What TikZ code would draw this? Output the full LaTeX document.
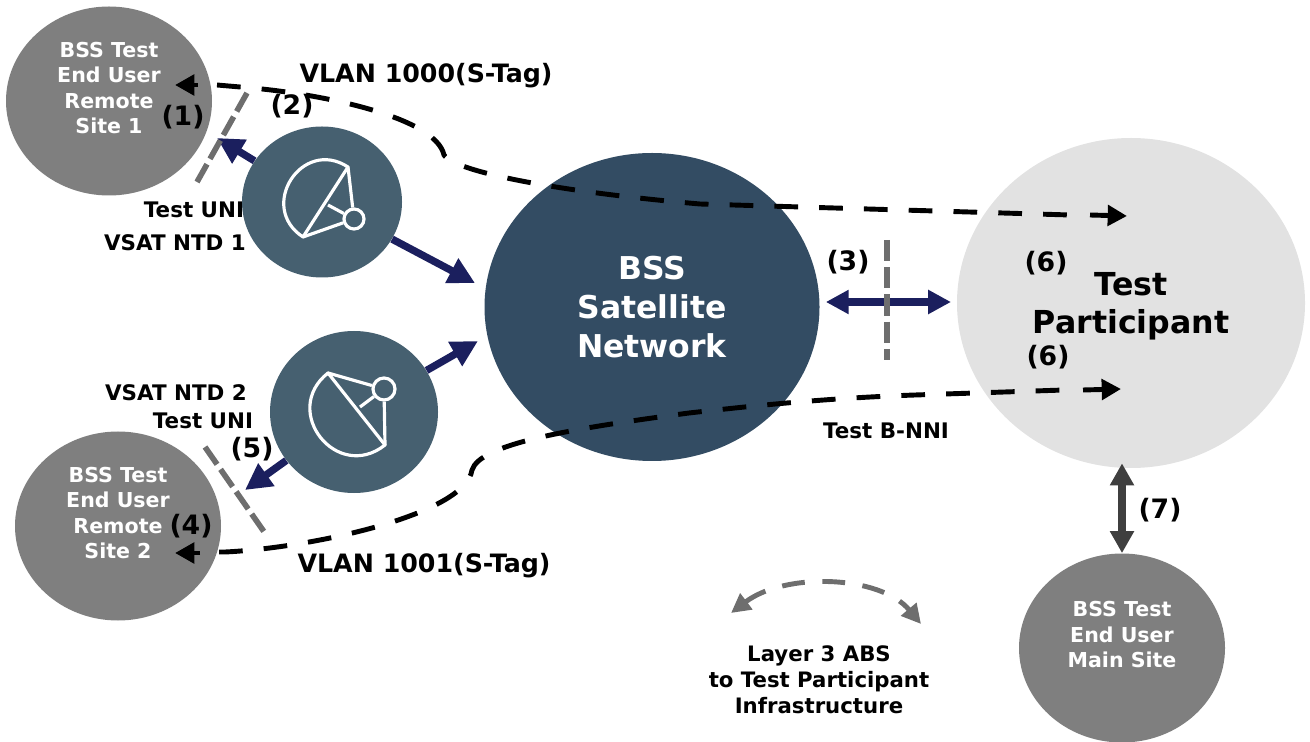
\documentclass[tikz,border=0pt]{standalone}
\usepackage{xcolor}
\usepackage{fontspec}
\setmainfont{DejaVu Sans}
\usetikzlibrary{arrows.meta,shapes.geometric,positioning,calc}

\definecolor{sitegray}{HTML}{7F7F7F}
\definecolor{vsatteal}{HTML}{466070}
\definecolor{bssblue}{HTML}{334C63}
\definecolor{partgray}{HTML}{E2E2E2}
\definecolor{linknavy}{HTML}{1B1F5E}
\definecolor{darklink}{HTML}{3F3F3F}
\definecolor{demarcgray}{HTML}{6E6E6E}

\tikzset{
    blob/.style={ellipse, draw=none, inner sep=0pt, align=center},
    site/.style={blob, fill=sitegray, text=white, font=\bfseries\fontsize{11.7}{14.5}\selectfont, minimum width=206*0.02cm, minimum height=189*0.02cm, text depth=15pt},
    vsat/.style={blob, fill=vsatteal},
    tag/.style={font=\bfseries\fontsize{12.2}{14}\selectfont, text=black, inner sep=0pt},
    vlan/.style={font=\bfseries\fontsize{14.4}{16}\selectfont, text=black, inner sep=0pt},
    num/.style={font=\bfseries\fontsize{15.2}{16}\selectfont, text=black, inner sep=0pt},
    vlanpath/.style={line width=2.8pt, dash pattern=on 13.5pt off 12pt, black},
    vlantip/.style={line width=2.8pt, black, -{Triangle[length=11pt,width=11.5pt]}},
    link/.style={line width=4.2pt, linknavy, -{Triangle[length=15pt,width=15pt]}},
    demarc/.style={line width=3.2pt, demarcgray, dash pattern=on 12pt off 3.5pt},
    dish/.style={line width=1.8pt, white, line join=round}
}

\begin{document}
\begin{tikzpicture}[x=0.02cm, y=-0.02cm]
    \useasboundingbox (0,0) rectangle (1310,742);

    % Labels under the circles
    \node[tag] (uni1) at (194,210) {Test UNI};
    \node[tag] (ntd1lab) at (175,243) {VSAT NTD 1};
    \node[tag] (ntd2lab) at (176,393) {VSAT NTD 2};
    \node[tag] (uni2) at (203,421) {Test UNI};

    % Main circles
    \node[site] (remote1) at (109,101) {BSS Test\\End User\\Remote\\Site 1};
    \node[site] (remote2) at (118,526) {BSS Test\\End User\\Remote\\Site 2};
    \node[site] (mainsite) at (1122,648) {BSS Test\\End User\\Main Site};
    \node[vsat, minimum width=160*0.02cm, minimum height=151*0.02cm] (ntd1) at (322,202) {};
    \node[vsat, minimum width=168*0.02cm, minimum height=162*0.02cm] (ntd2) at (354,412) {};
    \node[blob, fill=bssblue, text=white, font=\bfseries\fontsize{17.9}{22.4}\selectfont, minimum width=335*0.02cm, minimum height=308*0.02cm] (bss) at (652,307) {BSS\\Satellite\\Network};
    \node[blob, fill=partgray, text=black, font=\bfseries\fontsize{18}{21.5}\selectfont, minimum width=348*0.02cm, minimum height=330*0.02cm, text depth=0pt] (part) at (1131,303) {Test\\Participant};

    % Dish icons
    \coordinate (dish1a) at (348,167);
    \coordinate (dish1b) at (303,237);
    \draw[dish] (dish1a) .. controls (302,137) and (257,207) .. (dish1b) -- cycle;
    \node[draw=white, line width=1.8pt, circle, minimum size=20*0.02cm, inner sep=0pt] (feed1) at (354,219) {};
    \draw[dish] (dish1a) -- (feed1);
    \draw[dish] (dish1b) -- (feed1);
    \draw[dish] (328,205) -- (feed1);

    \coordinate (dish2a) at (328,373);
    \coordinate (dish2b) at (385,445);
    \draw[dish] (dish2a) .. controls (280,411) and (337,483) .. (dish2b) -- cycle;
    \node[draw=white, line width=1.8pt, circle, minimum size=22*0.02cm, inner sep=0pt] (feed2) at (384,389) {};
    \draw[dish] (dish2a) -- (feed2);
    \draw[dish] (dish2b) -- (feed2);
    \draw[dish] (360,407) -- (feed2);

    % Access links
    \coordinate (tip1) at (217,138);
    \coordinate (tip2) at (475,283);
    \coordinate (tip3) at (478,341);
    \coordinate (tip4) at (245,490);
    \coordinate (bnni) at (951,302);
    \draw[link] (ntd1) -- (tip1);
    \draw[link] (ntd1) -- (tip2);
    \draw[link] (ntd2) -- (tip3);
    \draw[link] (ntd2) -- (tip4);
    \draw[link, shorten <=3.4pt, {Triangle[length=13pt,width=13pt]}-{Triangle[length=13pt,width=13pt]}] (bss.east |- bnni) -- (bnni);
    \draw[line width=5pt, darklink, {Triangle[length=12.5pt,width=13pt]}-{Triangle[length=12.5pt,width=13pt]}] ($(mainsite |- part.south)+(0,-5)$) -- (mainsite.north);

    % Demarcation lines
    \coordinate (uni1top) at (247,93);
    \coordinate (uni1end) at (197,182);
    \coordinate (uni2top) at (205,447);
    \coordinate (uni2end) at (267,536);
    \coordinate (nnitop) at (887,240);
    \coordinate (nniend) at (887,360);
    \draw[demarc] (uni1top) -- (uni1end);
    \draw[demarc] (uni2top) -- (uni2end);
    \draw[demarc] (nnitop) -- (nniend);

    % VLAN paths
    \coordinate (vlan1a) at (175,85);
    \coordinate (vlan1s) at (198,85);
    \coordinate (vlan1b) at (1127,216);
    \coordinate (vlan1e) at (1090,215);
    \coordinate (vlan2a) at (175,553);
    \coordinate (vlan2s) at (200,553);
    \coordinate (vlan2b) at (1121,389);
    \coordinate (vlan2e) at (1083,390);
    \draw[vlanpath] (217,85) -- (240,87) .. controls (310,92) and (435,115) .. (444,155)
        .. controls (455,172) and (560,192) .. (700,204) -- (1070,215);
    \draw[vlanpath] (219,552) -- (225,552) .. controls (310,548) and (465,515) .. (472,470)
        .. controls (480,445) and (560,430) .. (689,413)
        .. controls (760,405) and (830,398) .. (915,395) -- (1064,390);
    \draw[vlantip] (vlan1s) -- (vlan1a);
    \draw[vlantip] (vlan1e) -- (vlan1b);
    \draw[vlantip] (vlan2s) -- (vlan2a);
    \draw[vlantip] (vlan2e) -- (vlan2b);

    % Test interval arrow
    \coordinate (absleft) at (731,613);
    \coordinate (absright) at (921,624);
    \draw[demarcgray, line width=2.8pt, dash pattern=on 13pt off 10pt, {Triangle[length=11pt,width=11pt]}-{Triangle[length=11pt,width=11pt]}] (absleft) .. controls (785,572) and (880,575) .. (absright);

    % Text labels
    \node[vlan] (vlan1000) at (426,76) {VLAN 1000(S-Tag)};
    \node[vlan] (vlan1001) at (424,566) {VLAN 1001(S-Tag)};
    \node[tag] (bnnilab) at (886,431) {Test B-NNI};
    \node[tag, align=center, font=\bfseries\fontsize{12.1}{14.7}\selectfont] (abslab) at (819,680) {Layer 3 ABS\\to Test Participant\\Infrastructure};

    \node[num] (n1) at (183,117) {(1)};
    \node[num] (n2) at (292,106) {(2)};
    \node[num] (n3) at (848,262) {(3)};
    \node[num] (n4) at (191,526) {(4)};
    \node[num] (n5) at (252,449) {(5)};
    \node[num] (n6a) at (1046,263) {(6)};
    \node[num] (n6b) at (1048,357) {(6)};
    \node[num] (n7) at (1160,510) {(7)};

\end{tikzpicture}
\end{document}
